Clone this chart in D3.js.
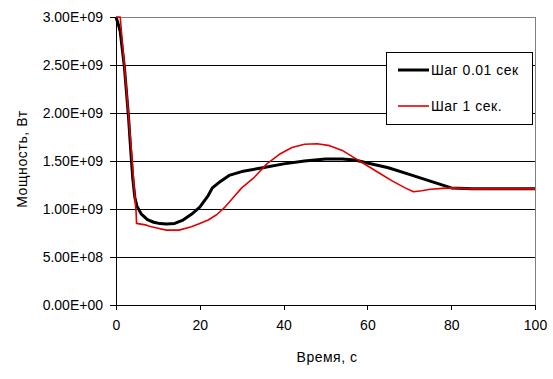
<!DOCTYPE html>
<html>
<head>
<meta charset="utf-8">
<script src="https://cdn.jsdelivr.net/npm/d3@7"></script>
<style>
  body { margin: 0; background: #fff; }
  svg { display: block; font-family: "Liberation Sans", Arial, sans-serif; }
</style>
</head>
<body>
<svg id="chart" width="553" height="379"></svg>
<script>
// time (s) and power (W)
const fineTime = [0, 0.5, 1, 2, 3, 3.5, 4, 4.5, 5, 6, 7.5, 9, 10.5, 12, 14, 16, 18, 20, 22, 23, 25, 27, 30, 35, 40, 45, 50, 54, 57, 60, 65, 70, 75, 80, 85, 100];
const finePower = [3.0e9, 2.93e9, 2.85e9, 2.48e9, 1.95e9, 1.62e9, 1.32e9, 1.12e9, 1.03e9, 0.95e9, 0.89e9, 0.862e9, 0.848e9, 0.844e9, 0.85e9, 0.885e9, 0.945e9, 1.02e9, 1.14e9, 1.22e9, 1.29e9, 1.35e9, 1.39e9, 1.43e9, 1.47e9, 1.5e9, 1.52e9, 1.52e9, 1.51e9, 1.48e9, 1.43e9, 1.36e9, 1.29e9, 1.22e9, 1.21e9, 1.21e9];

const coarseTime = [0, 1, 2, 3, 4, 4.8, 4.9, 7, 8, 10, 12, 15, 18, 20, 22, 24, 26, 28, 30, 33, 36, 39, 42, 45, 48, 51, 54, 57, 60, 63, 66, 69, 71, 73, 75, 78, 80, 85, 100];
const coarsePower = [3.0e9, 3.0e9, 2.5e9, 1.98e9, 1.42e9, 0.96e9, 0.85e9, 0.835e9, 0.82e9, 0.8e9, 0.78e9, 0.78e9, 0.815e9, 0.85e9, 0.885e9, 0.94e9, 1.02e9, 1.12e9, 1.22e9, 1.33e9, 1.47e9, 1.57e9, 1.64e9, 1.675e9, 1.68e9, 1.66e9, 1.61e9, 1.53e9, 1.45e9, 1.37e9, 1.29e9, 1.22e9, 1.18e9, 1.19e9, 1.205e9, 1.215e9, 1.22e9, 1.21e9, 1.21e9];

const xTicks = [0, 20, 40, 60, 80, 100];
const yTicks = [0, 5e8, 1e9, 1.5e9, 2e9, 2.5e9, 3e9];
const seriesNames = ["Шаг 0.01 сек", "Шаг 1 сек."];

const svg = d3.select("#chart");
const plot = { left: 116, right: 535, top: 17, bottom: 305 };

const x = d3.scaleLinear().domain([0, 100]).range([plot.left, plot.right]);
const y = d3.scaleLinear().domain([0, 3e9]).range([plot.bottom, plot.top]);

// gridlines
svg.append("g")
  .selectAll("line")
  .data(yTicks.slice(1, -1))
  .enter()
  .append("line")
  .attr("x1", plot.left)
  .attr("x2", plot.right)
  .attr("y1", (d) => y(d))
  .attr("y2", (d) => y(d))
  .attr("stroke", "#000")
  .attr("shape-rendering", "crispEdges");

// gray frame on top and right
svg.append("path")
  .attr("d", `M${plot.left},${plot.top}H${plot.right}V${plot.bottom}`)
  .attr("fill", "none")
  .attr("stroke", "#808080")
  .attr("shape-rendering", "crispEdges");

const fmt = (d) => {
  const s = d3.format(".2e")(d).toUpperCase();
  return s.replace(/E([+-])(\d)$/, "E$10$2");
};

const yAxis = svg.append("g")
  .attr("transform", `translate(${plot.left},0)`)
  .call(d3.axisLeft(y).tickValues(yTicks).tickSize(6).tickSizeOuter(0).tickPadding(7).tickFormat(fmt));
yAxis.selectAll("text").attr("font-size", 14).attr("fill", "#000").attr("font-family", "Liberation Sans, Arial");
yAxis.selectAll("line").attr("shape-rendering", "crispEdges");
yAxis.select(".domain").attr("shape-rendering", "crispEdges");
yAxis.selectAll(".tick line").attr("x1", 0).attr("x2", -6);

const xAxis = svg.append("g")
  .attr("transform", `translate(0,${plot.bottom})`)
  .call(d3.axisBottom(x).tickValues(xTicks).tickSize(5).tickSizeOuter(0).tickPadding(10));
xAxis.selectAll("text").attr("font-size", 14).attr("fill", "#000").attr("font-family", "Liberation Sans, Arial");
xAxis.selectAll("line").attr("shape-rendering", "crispEdges");
xAxis.select(".domain").attr("shape-rendering", "crispEdges");

// series
const line = d3.line().x((d) => x(d[0])).y((d) => y(d[1]));
const fineData = fineTime.map((t, i) => [t, finePower[i]]);
const coarseData = coarseTime.map((t, i) => [t, coarsePower[i]]);

svg.append("path")
  .datum(fineData)
  .attr("d", line)
  .attr("fill", "none")
  .attr("stroke", "#000")
  .attr("stroke-width", 3)
  .attr("stroke-linejoin", "round");

svg.append("path")
  .datum(coarseData)
  .attr("d", line)
  .attr("fill", "none")
  .attr("stroke", "#e00000")
  .attr("stroke-width", 1.6)
  .attr("stroke-linejoin", "round");

// axis titles
svg.append("text")
  .attr("x", 327)
  .attr("y", 362)
  .attr("text-anchor", "middle")
  .attr("font-size", 14)
  .attr("letter-spacing", 0.5)
  .text("Время, с");

svg.append("text")
  .attr("transform", "translate(27,159) rotate(-90)")
  .attr("text-anchor", "middle")
  .attr("font-size", 14)
  .attr("letter-spacing", 0.6)
  .text("Мощность, Вт");

// legend
const legend = svg.append("g");
legend.append("rect")
  .attr("x", 386.5)
  .attr("y", 52.5)
  .attr("width", 146)
  .attr("height", 72)
  .attr("fill", "#fff")
  .attr("stroke", "#000");

const legendRows = legend.selectAll("g.row")
  .data(seriesNames)
  .enter()
  .append("g")
  .attr("class", "row")
  .attr("transform", (d, i) => `translate(0,${70 + i * 36})`);

legendRows.append("line")
  .attr("x1", 398)
  .attr("x2", 429)
  .attr("stroke", (d, i) => (i === 0 ? "#000" : "#e00000"))
  .attr("stroke-width", (d, i) => (i === 0 ? 3 : 1.6));

legendRows.append("text")
  .attr("x", 431)
  .attr("dy", "0.35em")
  .attr("font-size", 14)
  .attr("letter-spacing", 0.5)
  .text((d) => d);
</script>
</body>
</html>
